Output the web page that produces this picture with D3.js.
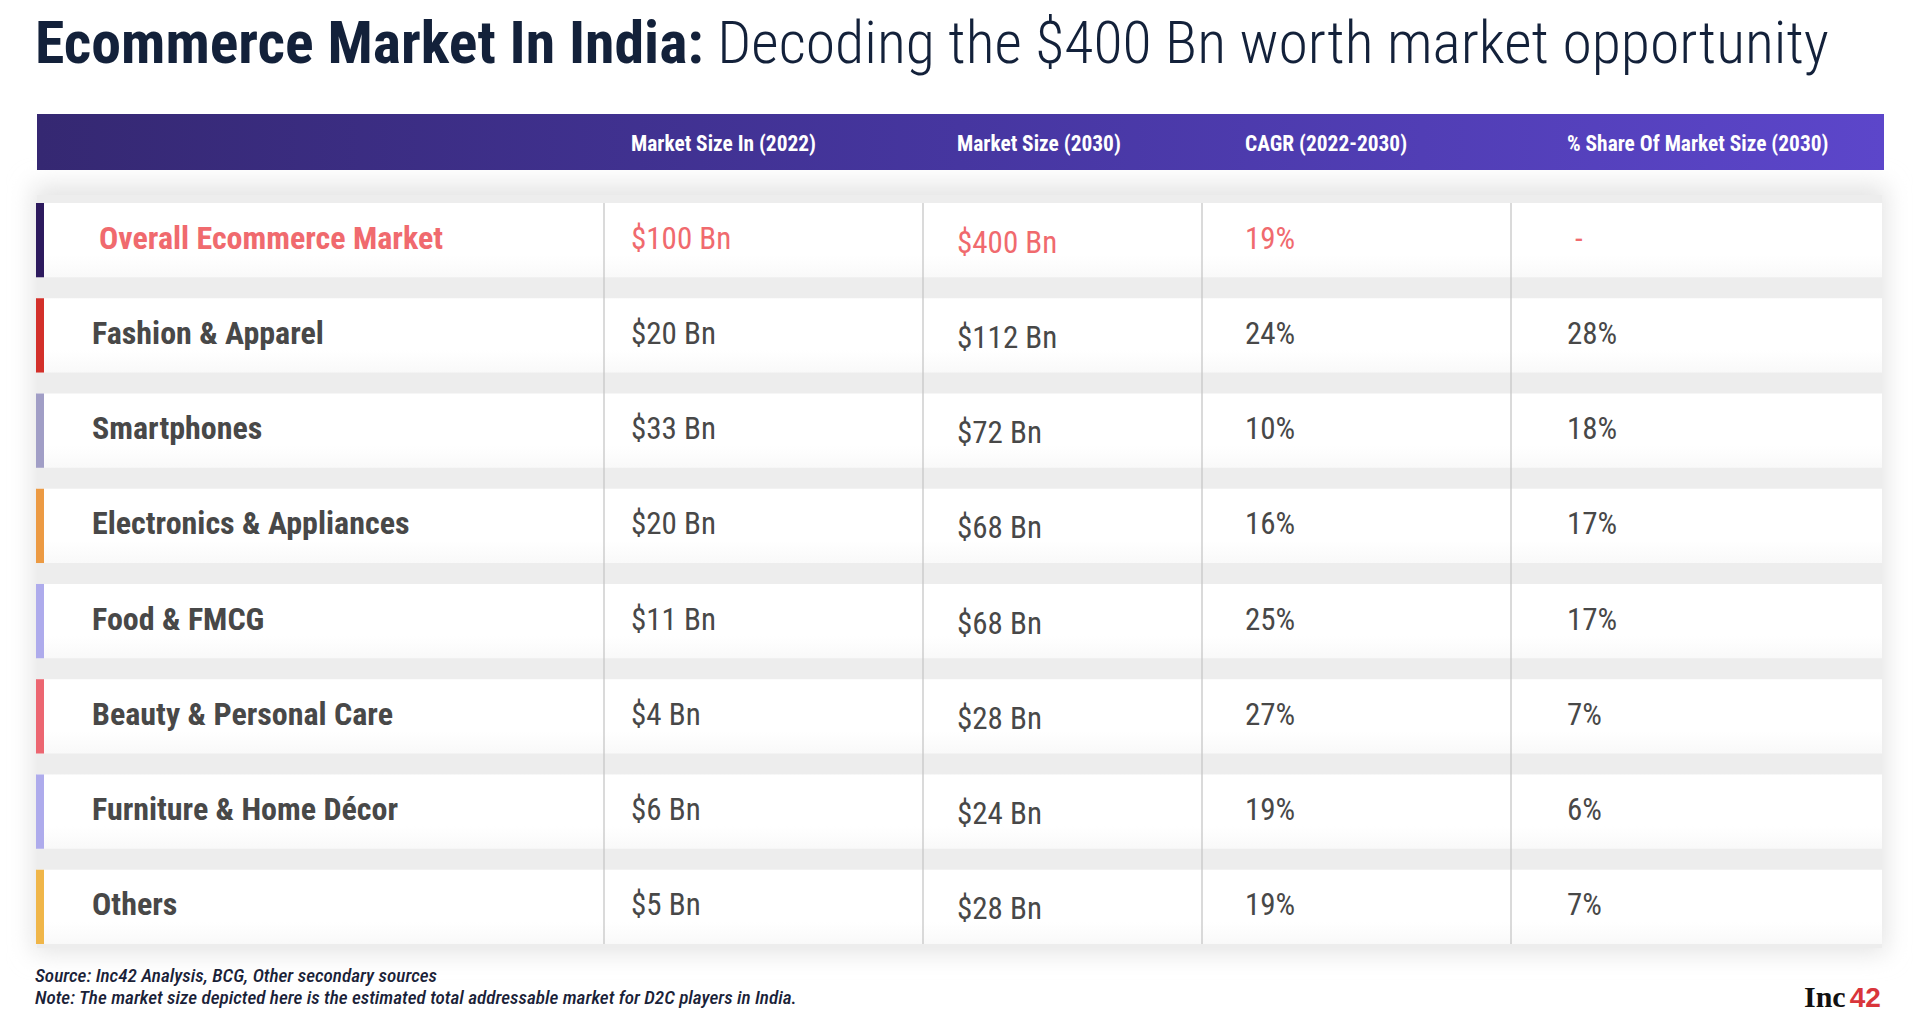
<!DOCTYPE html>
<html>
<head>
<meta charset="utf-8">
<script src="https://cdn.jsdelivr.net/npm/d3@7"></script>
<style>
  html, body { margin: 0; padding: 0; background: #ffffff; overflow: hidden; }
  svg { display: block; }
</style>
</head>
<body>
<svg id="chart" width="1920" height="1031"></svg>
<script>
// ---------------- DATA ----------------
const titleBold = "Ecommerce Market In India:";
const titleLight = "Decoding the $400 Bn worth market opportunity";
const headers = ["Market Size In (2022)", "Market Size (2030)", "CAGR (2022-2030)", "% Share Of Market Size (2030)"];
const categories = ["Overall Ecommerce Market", "Fashion & Apparel", "Smartphones", "Electronics & Appliances",
                    "Food & FMCG", "Beauty & Personal Care", "Furniture & Home Décor", "Others"];
const marketSize2022 = [100, 20, 33, 20, 11, 4, 6, 5];     // $ Bn
const marketSize2030 = [400, 112, 72, 68, 68, 28, 24, 28]; // $ Bn
const cagr = [19, 24, 10, 16, 25, 27, 19, 19];             // %
const share2030 = [null, 28, 18, 17, 17, 7, 6, 7];         // %
const accentColors = ["#2d1a5e", "#d3302a", "#a19ec6", "#ec9a43", "#aeabec", "#ec6671", "#aeabec", "#f0b649"];
const sourceNote = "Source: Inc42 Analysis, BCG, Other secondary sources";
const footNote = "Note: The market size depicted here is the estimated total addressable market for D2C players in India.";

// ---------------- FONT HANDLING ----------------
function fontAvailable(name) {
  const c = document.createElement("canvas").getContext("2d");
  const s = "abcdefghijklmnopqrstuvwxyz0123456789";
  c.font = "40px monospace"; const w1 = c.measureText(s).width;
  c.font = `40px "${name}", monospace`; const w2 = c.measureText(s).width;
  return Math.abs(w1 - w2) > 0.5;
}
const hasCond = fontAvailable("Roboto Condensed");
const FONT = hasCond ? "'Roboto Condensed', Roboto, sans-serif" : "Roboto, 'Noto Sans', sans-serif";
const K = hasCond ? 1 : 0.86; // horizontal condensing factor

function placeText(sel, x) {
  return sel.attr("x", x / K).attr("transform", `scale(${K},1)`);
}

// ---------------- LAYOUT ----------------
const tableLeft = 37, tableRight = 1882;
const headerTop = 114, headerBottom = 170;
const svg = d3.select("#chart");
const defs = svg.append("defs");

const grad = defs.append("linearGradient").attr("id", "hdrGrad").attr("x1", "0%").attr("x2", "100%");
grad.append("stop").attr("offset", "0%").attr("stop-color", "#352872");
grad.append("stop").attr("offset", "50%").attr("stop-color", "#4636a0");
grad.append("stop").attr("offset", "100%").attr("stop-color", "#5c46ca");

const rowGrad = defs.append("linearGradient").attr("id", "rowGrad").attr("x1", "0").attr("x2", "0").attr("y1", "0").attr("y2", "1");
rowGrad.append("stop").attr("offset", "0%").attr("stop-color", "#ffffff");
rowGrad.append("stop").attr("offset", "70%").attr("stop-color", "#ffffff");
rowGrad.append("stop").attr("offset", "100%").attr("stop-color", "#f9f9f9");

const blur = defs.append("filter").attr("id", "shadow").attr("x", "-5%").attr("y", "-10%").attr("width", "110%").attr("height", "120%");
blur.append("feGaussianBlur").attr("stdDeviation", 12);

// scales
const y = d3.scaleBand().domain(categories).range([203, 944]).paddingInner(0.22).paddingOuter(0);
const columns = ["label", "s22", "s30", "cagr", "share"];
const colX = d3.scaleOrdinal().domain(columns).range([92, 631, 957, 1245, 1567]);
const sepX = [604, 923, 1202, 1511];

// ---------------- TITLE ----------------
const title = svg.append("text").attr("y", 63)
  .style("font-family", FONT).style("font-size", "59.8px").attr("fill", "#13213a");
placeText(title, 35);
title.append("tspan").style("font-weight", 700).text(titleBold);
title.append("tspan").style("font-weight", 300).text(" " + titleLight);

// ---------------- TABLE BACKGROUND / SHADOW ----------------
svg.append("rect")
  .attr("x", tableLeft - 4).attr("y", 185).attr("width", tableRight - tableLeft + 8).attr("height", 768)
  .attr("fill", "#e4e4e4").attr("filter", "url(#shadow)");
svg.append("rect")
  .attr("x", tableLeft).attr("y", 195).attr("width", tableRight - tableLeft).attr("height", 753)
  .attr("fill", "#ededed");

// ---------------- HEADER ----------------
svg.append("rect")
  .attr("x", tableLeft).attr("y", headerTop).attr("width", 1884 - tableLeft).attr("height", headerBottom - headerTop)
  .attr("fill", "url(#hdrGrad)");
svg.append("g").selectAll("text").data(headers).join("text")
  .attr("y", 151)
  .style("font-family", FONT).style("font-size", "21.4px").style("font-weight", 700)
  .attr("fill", "#ffffff")
  .text(d => d)
  .each(function (d, i) { placeText(d3.select(this), colX(columns[i + 1])); });

// ---------------- ROWS ----------------
const rows = svg.append("g").selectAll("g").data(categories).join("g")
  .attr("transform", d => `translate(0,${y(d)})`);

rows.append("rect")
  .attr("x", tableLeft).attr("width", tableRight - tableLeft).attr("height", y.bandwidth())
  .attr("fill", "url(#rowGrad)");
rows.append("rect")
  .attr("x", tableLeft - 1).attr("width", 8).attr("height", y.bandwidth())
  .attr("fill", (d, i) => accentColors[i]);

// separators
svg.append("g").selectAll("line").data(sepX).join("line")
  .attr("x1", d => d).attr("x2", d => d)
  .attr("y1", y(categories[0])).attr("y2", y(categories[categories.length - 1]) + y.bandwidth())
  .attr("stroke", "#c6c6c6").attr("stroke-width", 1.3);

const mid = y.bandwidth() / 2;
const red = "#f06a6e", grey = "#484848";

rows.append("text")
  .attr("y", mid + 8.5)
  .style("font-family", FONT).style("font-size", "32px").style("font-weight", 700)
  .attr("fill", (d, i) => i === 0 ? red : grey)
  .text(d => d)
  .each(function (d, i) { placeText(d3.select(this), colX("label") + (i === 0 ? 7 : 0)); });

function valueCell(col, accessor, dy) {
  rows.append("text")
    .attr("y", mid + dy)
    .style("font-family", FONT).style("font-size", "31px").style("font-weight", 400)
    .attr("fill", (d, i) => i === 0 ? red : grey)
    .text((d, i) => accessor(i))
    .each(function (d, i) { placeText(d3.select(this), colX(col) + (col === "share" && share2030[i] == null ? 8 : 0)); });
}
valueCell("s22", i => `$${marketSize2022[i]} Bn`, 8.5);
valueCell("s30", i => `$${marketSize2030[i]} Bn`, 12.5);
valueCell("cagr", i => `${cagr[i]}%`, 8.5);
valueCell("share", i => share2030[i] == null ? "-" : `${share2030[i]}%`, 8.5);

// ---------------- FOOTER ----------------
const foot = svg.append("g")
  .style("font-family", FONT).style("font-size", "19.2px").style("font-style", "italic").style("font-weight", 500)
  .attr("fill", "#1a2238");
placeText(foot.append("text").attr("y", 982).text(sourceNote), 35);
placeText(foot.append("text").attr("y", 1004).text(footNote), 35);

// logo
const logo = svg.append("text").attr("x", 1804).attr("y", 1007);
logo.append("tspan").style("font-family", "'Liberation Serif', 'DejaVu Serif', serif").style("font-weight", 700)
  .style("font-size", "30px").attr("fill", "#111111").text("Inc");
logo.append("tspan").attr("dx", 4).style("font-family", "'Liberation Sans', Arial, sans-serif").style("font-weight", 700)
  .style("font-size", "28px").attr("fill", "#d9353b").text("42");
</script>
</body>
</html>
